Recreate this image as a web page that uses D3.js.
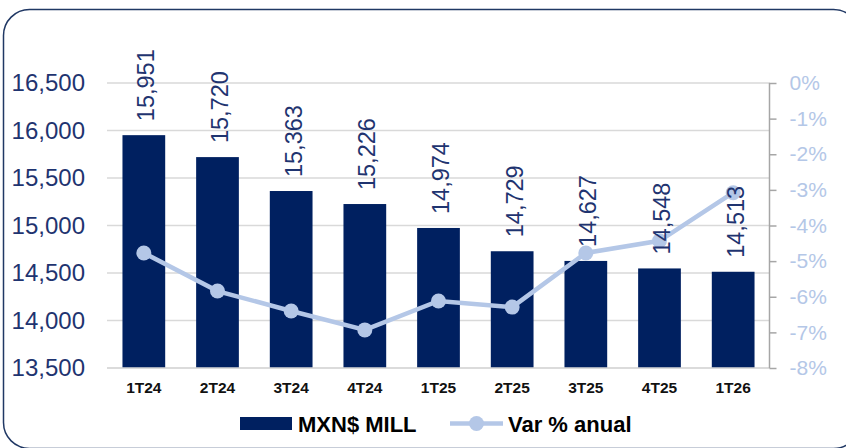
<!DOCTYPE html>
<html>
<head>
  <meta charset="utf-8">
  <script src="https://cdn.jsdelivr.net/npm/d3@7"></script>
  <style>
    body {margin:0; background:#fff;}
    text {font-family: "Liberation Sans", Arial, sans-serif;}
  </style>
</head>
<body>
<script>
const categories = ["1T24", "2T24", "3T24", "4T24", "1T25", "2T25", "3T25", "4T25", "1T26"];
const mxnMill = [15951, 15720, 15363, 15226, 14974, 14729, 14627, 14548, 14513];
const varAnual = [-4.77, -5.84, -6.40, -6.93, -6.12, -6.29, -4.77, -4.43, -3.08];
const leftTicks = [13500, 14000, 14500, 15000, 15500, 16000, 16500];
const rightTicks = [0, -1, -2, -3, -4, -5, -6, -7, -8];

const width = 846, height = 448;
const plotLeft = 107, plotRight = 770, plotTop = 83, plotBottom = 368;
const navy = "#002060", lightBlue = "#b4c7e7", labelNavy = "#1f3470";

const svg = d3.select("body").append("svg")
  .attr("width", width).attr("height", height);

// rounded frame
svg.append("rect")
  .attr("x", 3.5).attr("y", 9.5)
  .attr("width", 856).attr("height", 439)
  .attr("rx", 26)
  .attr("fill", "none")
  .attr("stroke", "#203864")
  .attr("stroke-width", 1.5);

const x = d3.scaleBand().domain(categories).range([plotLeft, plotRight])
  .paddingInner(0.42).paddingOuter(0.21);
const y = d3.scaleLinear().domain([13500, 16500]).range([plotBottom, plotTop]);
const yPct = d3.scaleLinear().domain([-8, 0]).range([plotBottom, plotTop]);

// gridlines
svg.append("g").selectAll("line")
  .data(leftTicks)
  .join("line")
  .attr("x1", plotLeft).attr("x2", plotRight)
  .attr("y1", d => y(d)).attr("y2", d => y(d))
  .attr("stroke", "#d9d9d9").attr("stroke-width", 1.5);

// left axis labels
const yAxis = svg.append("g")
  .attr("transform", `translate(${plotLeft},0)`)
  .call(d3.axisLeft(y).tickValues(leftTicks).tickSize(0).tickPadding(22)
    .tickFormat(d3.format(",")));
yAxis.select(".domain").remove();
yAxis.selectAll("text")
  .attr("fill", labelNavy)
  .style("font-size", "24px");

// bars
svg.append("g").selectAll("rect")
  .data(mxnMill)
  .join("rect")
  .attr("x", (d, i) => x(categories[i]))
  .attr("y", d => y(d))
  .attr("width", x.bandwidth())
  .attr("height", d => plotBottom - y(d))
  .attr("fill", navy);

// bottom axis
const xAxis = svg.append("g")
  .attr("transform", `translate(0,${plotBottom})`)
  .call(d3.axisBottom(x).tickSize(0).tickPadding(14));
xAxis.select(".domain").attr("stroke", "#d9d9d9").attr("stroke-width", 1.5)
  .attr("d", `M${plotLeft},0H${plotRight}`);
xAxis.selectAll("text")
  .attr("fill", "#111")
  .style("font-size", "15.5px")
  .style("font-weight", "bold");

// right axis
const yAxisR = svg.append("g")
  .attr("transform", `translate(${plotRight - 0.5},0)`)
  .call(d3.axisRight(yPct).tickValues(rightTicks).tickSize(7).tickPadding(13)
    .tickFormat(d => (d < 0 ? "-" + Math.abs(d) : d) + "%"));
yAxisR.select(".domain").attr("stroke", "#a6a6a6").attr("stroke-width", 1.5)
  .attr("d", `M0,${plotTop}V${plotBottom}`);
yAxisR.selectAll(".tick line").attr("stroke", "#a6a6a6").attr("stroke-width", 1.5);
yAxisR.selectAll("text")
  .attr("fill", lightBlue)
  .style("font-size", "21px");

// line series
const cx = (d, i) => x(categories[i]) + x.bandwidth() / 2;
svg.append("path")
  .datum(varAnual)
  .attr("d", d3.line().x(cx).y(d => yPct(d)))
  .attr("fill", "none")
  .attr("stroke", lightBlue)
  .attr("stroke-width", 4.5);
svg.append("g").selectAll("circle")
  .data(varAnual)
  .join("circle")
  .attr("cx", cx)
  .attr("cy", d => yPct(d))
  .attr("r", 7.5)
  .attr("fill", lightBlue);

// value labels
svg.append("g").selectAll("text")
  .data(mxnMill)
  .join("text")
  .attr("transform", (d, i) => `translate(${cx(d, i) + 2},${y(d) - 14}) rotate(-90)`)
  .attr("dy", "0.36em")
  .attr("fill", labelNavy)
  .style("font-size", "23.5px")
  .text(d => d3.format(",")(d));

// legend
const legend = svg.append("g");
legend.append("rect")
  .attr("x", 240).attr("y", 417).attr("width", 52).attr("height", 13)
  .attr("fill", navy);
legend.append("text")
  .attr("x", 298).attr("y", 424).attr("dy", "0.35em")
  .style("font-size", "22px").style("font-weight", "bold")
  .attr("fill", "#000")
  .text("MXN$ MILL");
legend.append("line")
  .attr("x1", 450).attr("x2", 503).attr("y1", 423.5).attr("y2", 423.5)
  .attr("stroke", lightBlue).attr("stroke-width", 4.5);
legend.append("circle")
  .attr("cx", 476.5).attr("cy", 423.5).attr("r", 7.5)
  .attr("fill", lightBlue);
legend.append("text")
  .attr("x", 508).attr("y", 424).attr("dy", "0.35em")
  .style("font-size", "22px").style("font-weight", "bold")
  .attr("fill", "#000")
  .text("Var % anual");
</script>
</body>
</html>
